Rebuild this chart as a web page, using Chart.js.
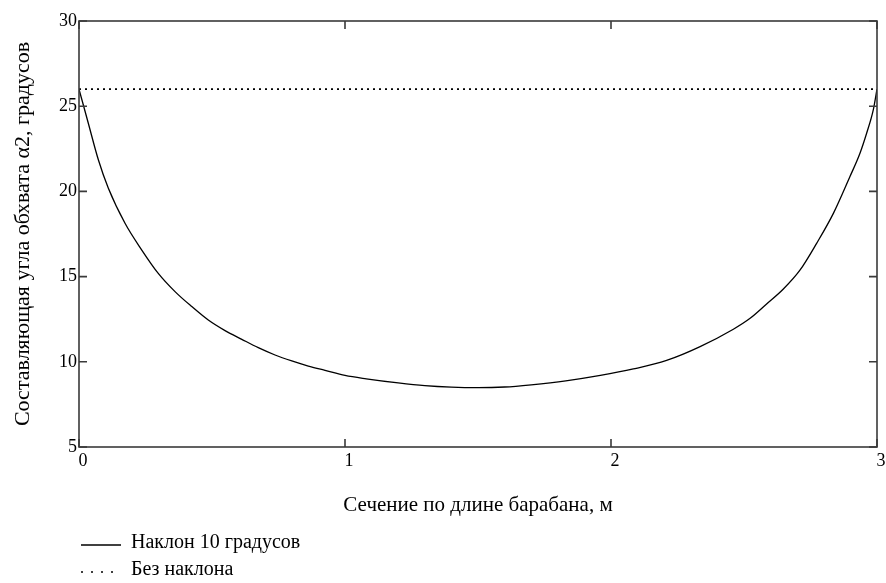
<!DOCTYPE html>
<html>
<head>
<meta charset="utf-8">
<script src="https://cdn.jsdelivr.net/npm/chart.js@4/dist/chart.umd.min.js"></script>
<style>
  html, body { margin: 0; padding: 0; background: #fff; }
  #wrap { width: 886px; height: 583px; }
</style>
</head>
<body>
<div id="wrap"><canvas id="angleChart" width="886" height="583"></canvas></div>
<script>
// Section along the drum, m
const sectionX = [0, 0.035, 0.073, 0.11, 0.173, 0.236, 0.298, 0.361, 0.424, 0.486, 0.549, 0.612,
    0.674, 0.737, 0.8, 0.862, 0.925, 1.0, 1.08, 1.2, 1.3, 1.4, 1.5, 1.6, 1.7, 1.83, 1.96, 2.084,
    2.209, 2.335, 2.46, 2.523, 2.585, 2.648, 2.711, 2.773, 2.836, 2.898, 2.936, 2.961, 2.986, 3.0];
// Wrap angle component with 10 degree incline
const inclinedAngle = [26, 24.0, 21.84, 20.2, 18.13, 16.56, 15.19, 14.12, 13.24, 12.45, 11.83, 11.32,
    10.83, 10.4, 10.05, 9.75, 9.5, 9.2, 9.0, 8.76, 8.6, 8.51, 8.48, 8.52, 8.65, 8.88, 9.2, 9.58,
    10.08, 10.89, 11.91, 12.55, 13.39, 14.27, 15.39, 16.95, 18.71, 20.86, 22.24, 23.41, 24.78, 26];
// No incline
const flatX = [0, 3];
const flatAngle = [26, 26];

const xTicks = [0, 1, 2, 3];
const yTicks = [5, 10, 15, 20, 25, 30];

const seriesLabels = ["Наклон 10 градусов", "Без наклона"];
const xTitle = "Сечение по длине барабана, м";
const yTitle = "Составляющая угла обхвата α2, градусов";

const serif = "'Liberation Serif', 'Times New Roman', serif";
const frameColor = "#3a3a3a";

function toPoints(xs, ys) {
    return xs.map((x, i) => ({ x: x, y: ys[i] }));
}

// Frame round the plot and inward tick marks, as in the Mathcad plot
const framePlugin = {
    id: "frame",
    afterDatasetsDraw(chart) {
        const { ctx, chartArea: a, scales } = chart;
        const len = 8;
        ctx.save();
        ctx.strokeStyle = frameColor;
        ctx.lineWidth = 1.6;
        ctx.strokeRect(a.left, a.top, a.right - a.left, a.bottom - a.top);
        ctx.beginPath();
        xTicks.forEach(v => {
            const px = scales.x.getPixelForValue(v);
            ctx.moveTo(px, a.bottom); ctx.lineTo(px, a.bottom - len);
            ctx.moveTo(px, a.top); ctx.lineTo(px, a.top + len);
        });
        yTicks.forEach(v => {
            const py = scales.y.getPixelForValue(v);
            ctx.moveTo(a.left, py); ctx.lineTo(a.left + len, py);
            ctx.moveTo(a.right, py); ctx.lineTo(a.right - len, py);
        });
        ctx.stroke();
        ctx.restore();
    }
};

// Legend stacked in rows under the x axis title
const legendPlugin = {
    id: "stackLegend",
    afterDraw(chart) {
        const ctx = chart.ctx;
        ctx.save();
        ctx.font = "20px " + serif;
        ctx.fillStyle = "#000";
        ctx.textBaseline = "middle";
        chart.data.datasets.forEach((ds, i) => {
            const y = 545 + i * 27;
            ctx.beginPath();
            ctx.strokeStyle = "#000";
            ctx.lineWidth = ds.legendWidth;
            ctx.setLineDash(ds.legendDash);
            ctx.moveTo(81, y);
            ctx.lineTo(121, y);
            ctx.stroke();
            ctx.setLineDash([]);
            ctx.fillText(ds.label, 131, y - 2);
        });
        ctx.restore();
    }
};

new Chart(document.getElementById("angleChart"), {
    type: "line",
    data: {
        datasets: [{
            label: seriesLabels[0],
            data: toPoints(sectionX, inclinedAngle),
            borderColor: "#000",
            borderWidth: 1.3,
            pointRadius: 0,
            cubicInterpolationMode: "monotone",
            legendDash: [],
            legendWidth: 1.3
        }, {
            label: seriesLabels[1],
            data: toPoints(flatX, flatAngle),
            borderColor: "#000",
            borderWidth: 1.6,
            borderDash: [2, 4],
            pointRadius: 0,
            legendDash: [2, 8],
            legendWidth: 1.6
        }]
    },
    options: {
        responsive: false,
        animation: false,
        layout: { padding: { top: 21, right: 9, bottom: 63, left: 0 } },
        plugins: { legend: { display: false }, tooltip: { enabled: false } },
        scales: {
            x: {
                type: "linear",
                min: 0,
                max: 3,
                afterBuildTicks: s => { s.ticks = xTicks.map(v => ({ value: v })); },
                afterFit: s => { s.height = 73; },
                grid: { display: false, drawTicks: false },
                border: { display: false },
                ticks: {
                    padding: 3,
                    labelOffset: 4,
                    color: "#000",
                    font: { family: serif, size: 18 }
                },
                title: {
                    display: true,
                    text: xTitle,
                    color: "#000",
                    font: { family: serif, size: 21 },
                    padding: { top: 0, bottom: 2 }
                }
            },
            y: {
                type: "linear",
                min: 5,
                max: 30,
                afterBuildTicks: s => { s.ticks = yTicks.map(v => ({ value: v })); },
                afterFit: s => { s.width = 79; },
                grid: { display: false, drawTicks: false },
                border: { display: false },
                ticks: {
                    padding: 2,
                    color: "#000",
                    font: { family: serif, size: 18 }
                },
                title: {
                    display: true,
                    text: yTitle,
                    color: "#000",
                    font: { family: serif, size: 22 },
                    padding: { top: 10, bottom: 0 }
                }
            }
        }
    },
    plugins: [framePlugin, legendPlugin]
});
</script>
</body>
</html>
